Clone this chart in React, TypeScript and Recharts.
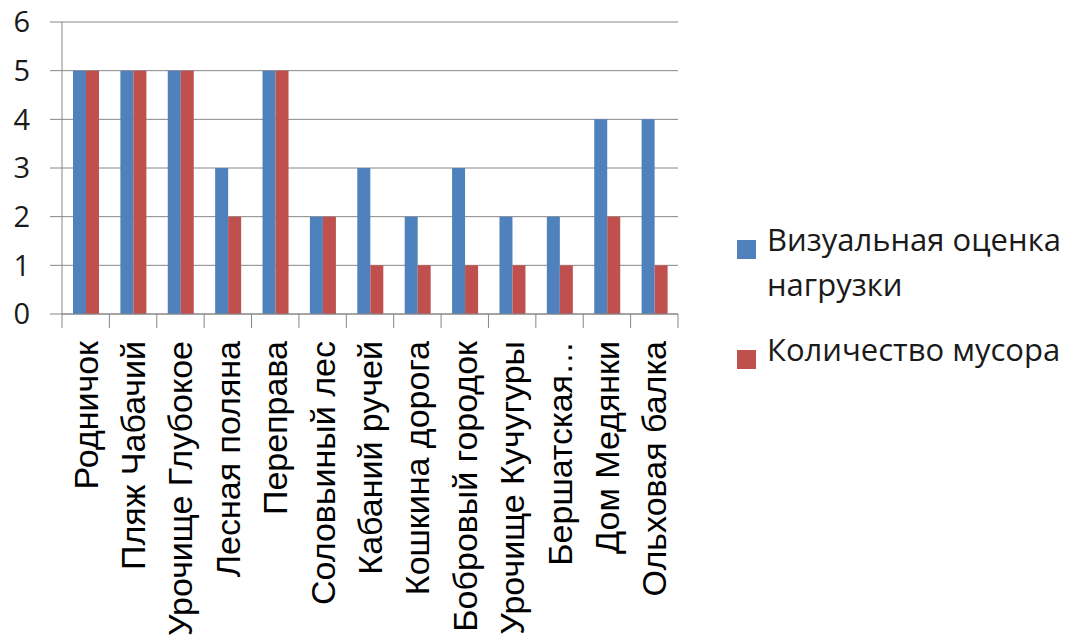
import React from "react";
import {
  BarChart,
  Bar,
  XAxis,
  YAxis,
  CartesianGrid,
  Legend,
} from "recharts";

const categories = [
  "Родничок",
  "Пляж Чабачий",
  "Урочище Глубокое",
  "Лесная поляна",
  "Переправа",
  "Соловьиный лес",
  "Кабаний ручей",
  "Кошкина дорога",
  "Бобровый городок",
  "Урочище Кучугуры",
  "Бершатская…",
  "Дом Медянки",
  "Ольховая балка",
];
const visualLoad = [5, 5, 5, 3, 5, 2, 3, 2, 3, 2, 2, 4, 4];
const garbage = [5, 5, 5, 2, 5, 2, 1, 1, 1, 1, 1, 2, 1];
const yTicks = [0, 1, 2, 3, 4, 5, 6];
const seriesNames = ["Визуальная оценка нагрузки", "Количество мусора"];

const data = categories.map((name, i) => ({
  name,
  visual: visualLoad[i],
  garbage: garbage[i],
}));

const W = 1073;
const H = 639;
const PLOT_LEFT = 62;
const PLOT_RIGHT = 678;
const BW = (PLOT_RIGHT - PLOT_LEFT) / categories.length;
const GRID = "#868686";

const CategoryTick = ({ x, y, payload, index }: any) => (
  <g transform={`translate(${x},${y})`}>
    <line x1={-BW / 2} x2={-BW / 2} y1={0} y2={14} stroke={GRID} />
    {index === categories.length - 1 && (
      <line x1={BW / 2} x2={BW / 2} y1={0} y2={14} stroke={GRID} />
    )}
    <text
      transform="rotate(-90)"
      x={-27}
      y={12}
      textAnchor="end"
      fontFamily="'Liberation Sans', Arial, sans-serif"
      fontSize={34}
      fill="#000"
    >
      {payload.value}
    </text>
  </g>
);

const renderLegend = (props: any) => (
  <div
    style={{
      fontFamily: "'Open Sans', sans-serif",
      fontSize: 31,
      color: "#1a1a1a",
    }}
  >
    {(props.payload || []).map((entry: any, i: number) => (
      <div
        key={entry.value}
        style={{
          display: "flex",
          alignItems: "flex-start",
          marginBottom: i === 0 ? 20 : 0,
        }}
      >
        <span
          style={{
            width: 19,
            height: 19,
            background: entry.color,
            marginTop: 23,
            marginRight: 11,
            flex: "none",
          }}
        />
        <span style={{ width: 310, lineHeight: "45px" }}>{entry.value}</span>
      </div>
    ))}
  </div>
);

export default function App() {
  return (
    <div
      style={{
        position: "absolute",
        left: 0,
        top: 0,
        width: W,
        height: H,
        overflow: "hidden",
        background: "#fff",
      }}
    >
      <style>{`body{margin:0;overflow:hidden}`}</style>
      <BarChart
        width={W}
        height={H}
        data={data}
        margin={{ top: 22, right: W - PLOT_RIGHT, left: 0, bottom: 0 }}
        barGap={0}
        barSize={13}
      >
        <CartesianGrid vertical={false} stroke={GRID} strokeWidth={1} />
        <XAxis
          dataKey="name"
          interval={0}
          height={H - 314}
          tickLine={false}
          tickSize={0}
          tickMargin={0}
          axisLine={{ stroke: GRID }}
          tick={<CategoryTick />}
        />
        <YAxis
          domain={[0, 6]}
          ticks={yTicks}
          width={PLOT_LEFT}
          tickSize={12}
          tickMargin={20}
          axisLine={{ stroke: GRID }}
          tickLine={{ stroke: GRID }}
          tick={{
            fill: "#1a1a1a",
            fontSize: 29,
            fontFamily: "'Open Sans', sans-serif",
          }}
        />
        <Legend
          layout="vertical"
          align="center"
          verticalAlign="middle"
          content={renderLegend}
          wrapperStyle={{ left: 737, top: 217, width: 336 }}
        />
        <Bar
          dataKey="visual"
          name={seriesNames[0]}
          fill="#4F81BD"
          isAnimationActive={false}
        />
        <Bar
          dataKey="garbage"
          name={seriesNames[1]}
          fill="#C0504D"
          isAnimationActive={false}
        />
      </BarChart>
    </div>
  );
}
